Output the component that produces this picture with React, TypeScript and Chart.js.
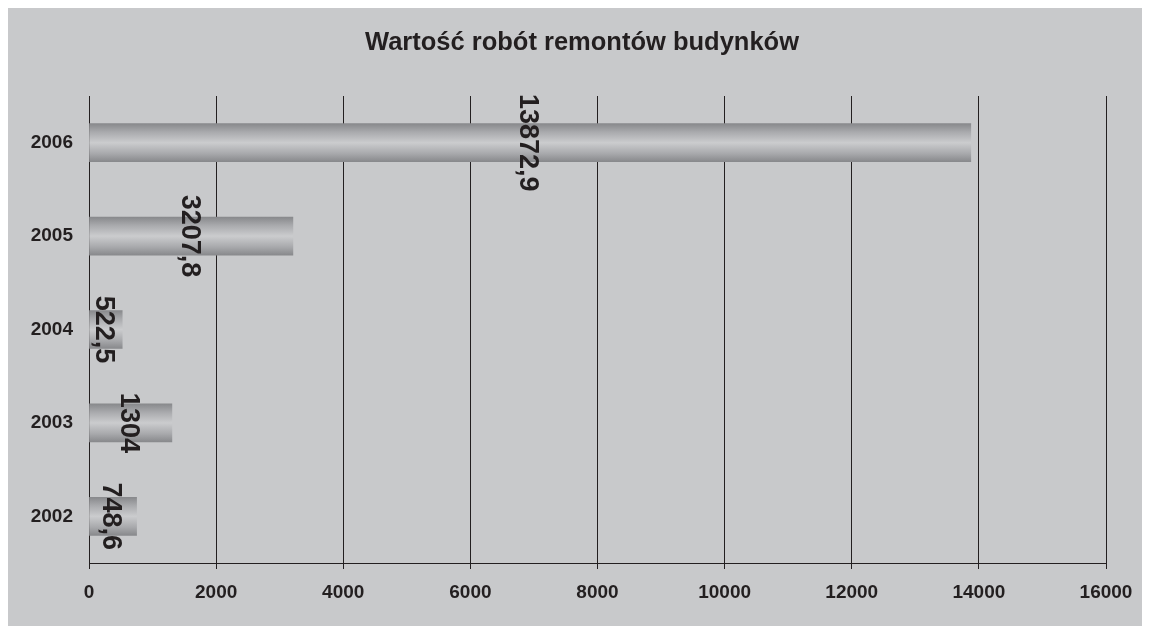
import React, { useEffect, useRef } from "react";
import { Chart, registerables } from "chart.js";

Chart.register(...registerables);

const years = ["2002", "2003", "2004", "2005", "2006"];
const values = [748.6, 1304, 522.5, 3207.8, 13872.9];
const xTickMax = 16000;
const xTickStep = 2000;
const titleText = "Wartość robót remontów budynków";

const FONT = "'Liberation Sans', Arial, Helvetica, sans-serif";
const INK = "#231f20";
const BG = "#c8c9cb";

const bgPlugin = {
  id: "bgFill",
  beforeDraw(chart: any) {
    const c = chart.ctx;
    c.save();
    c.fillStyle = BG;
    c.fillRect(0, 0, chart.width, chart.height);
    c.font = `bold 25.5px ${FONT}`;
    c.fillStyle = INK;
    c.textAlign = "center";
    c.textBaseline = "middle";
    c.fillText(titleText, 574, 35);
    c.restore();
  },
};

const labelPlugin = {
  id: "rotLabels",
  afterDatasetsDraw(chart: any) {
    const c = chart.ctx;
    const meta = chart.getDatasetMeta(0);
    const size = 27;
    c.save();
    c.font = `bold ${size}px ${FONT}`;
    c.fillStyle = INK;
    c.textAlign = "center";
    c.textBaseline = "alphabetic";
    meta.data.forEach((el: any, i: number) => {
      const v = values[i];
      const text = String(v).replace(".", ",");
      const x = (el.base + el.x) / 2;
      const y = el.y;
      c.save();
      c.translate(x, y);
      c.rotate(Math.PI / 2);
      c.fillText(text, 0, (size * 0.716) / 2);
      c.restore();
    });
    c.restore();
  },
};

function barGradient(context: any) {
  const chart = context.chart;
  const area = chart.chartArea;
  if (!area || !chart.scales.y) return "#aeafb2";
  const yc = chart.scales.y.getPixelForValue(context.dataIndex);
  const h = 19;
  const g = chart.ctx.createLinearGradient(0, yc - h, 0, yc + h);
  g.addColorStop(0, "#88898c");
  g.addColorStop(0.22, "#a9aaad");
  g.addColorStop(0.5, "#cbccce");
  g.addColorStop(0.78, "#a9aaad");
  g.addColorStop(1, "#88898c");
  return g;
}

export default function App() {
  const ref = useRef<HTMLCanvasElement | null>(null);
  useEffect(() => {
    if (!ref.current) return;
    const chart = new Chart(ref.current, {
      type: "bar",
      data: {
        labels: years,
        datasets: [
          {
            data: values,
            backgroundColor: barGradient as any,
            borderWidth: 0,
            barThickness: 38,
          },
        ],
      },
      plugins: [bgPlugin, labelPlugin],
      options: {
        indexAxis: "y",
        responsive: false,
        animation: false,
        devicePixelRatio: 1,
        layout: { padding: { left: 0, right: 44, top: 88, bottom: 0 } },
        plugins: {
          legend: { display: false },
          tooltip: { enabled: false },
          title: { display: false },
        },
        scales: {
          x: {
            min: 0,
            max: xTickMax,
            ticks: {
              stepSize: xTickStep,
              color: INK,
              font: { family: FONT, size: 19, weight: "bold" },
              padding: 12,
              maxRotation: 0,
              callback: (v: any) => String(v),
            },
            grid: { color: INK, lineWidth: 1, tickLength: 6, drawTicks: true },
            border: { display: true, color: INK, width: 1 },
            afterFit(scale: any) {
              scale.height = 63;
            },
          },
          y: {
            reverse: true,
            ticks: {
              color: INK,
              font: { family: FONT, size: 19, weight: "bold" },
              padding: 16,
            },
            grid: { display: false, drawTicks: false },
            border: { display: false },
            afterFit(scale: any) {
              scale.width = 81;
            },
          },
        },
      } as any,
    });
    return () => chart.destroy();
  }, []);
  return (
    <div style={{ width: 1142, height: 618 }}>
      <canvas ref={ref} width={1142} height={618} />
    </div>
  );
}
